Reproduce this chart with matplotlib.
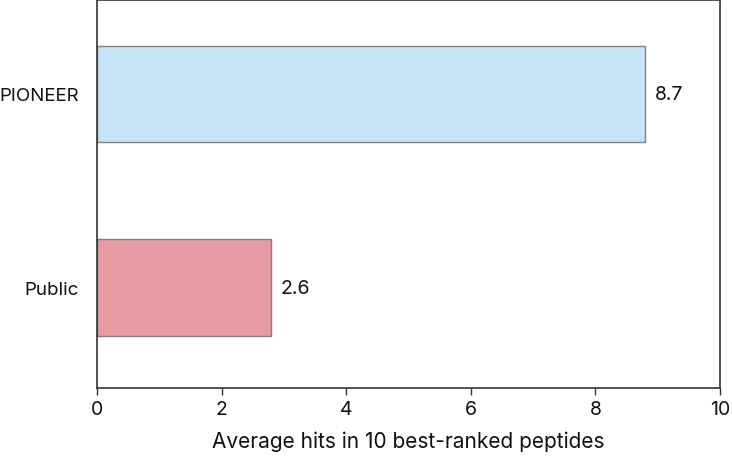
import matplotlib
matplotlib.use('Agg')
import matplotlib.pyplot as plt

# data
categories = ['Public', 'PIONEER']
bar_values = [2.8, 8.8]
bar_labels = ['2.6', '8.7']
bar_colors = ['#e79aa2', '#c6e4f6']

plt.rcParams.update({
    'font.family': ['Inter', 'DejaVu Sans'],
    'font.size':   13.5,
})

fig = plt.figure(figsize=(7.32, 4.64), dpi=100)
ax = fig.add_axes([0.1325, 0.162, 0.851, 0.836])

ypos = range(len(categories))
ax.barh(ypos, bar_values, height=0.5, color=bar_colors,
        edgecolor='#808080', linewidth=1.0)

for y, v, lab in zip(ypos, bar_values, bar_labels):
    ax.text(v + 0.15, y, lab, va='center', ha='left', fontsize=14, color='#111111')

ax.set_xlim(0, 10)
ax.set_ylim(-0.515, 1.485)
ax.set_xticks([0, 2, 4, 6, 8, 10])
ax.set_yticks(list(ypos))
ax.set_yticklabels(categories, fontsize=13.5, color='#111111')
ax.tick_params(axis='y', length=0, pad=13)
ax.tick_params(axis='x', length=5, width=1.0, color='#333333', labelsize=14,
               labelcolor='#111111', pad=4)
for sp in ax.spines.values():
    sp.set_color('#333333')
    sp.set_linewidth(1.2)
ax.set_xlabel('Average hits in 10 best-ranked peptides', fontsize=15,
              color='#111111', labelpad=9)

fig.savefig('out.png', dpi=100)
